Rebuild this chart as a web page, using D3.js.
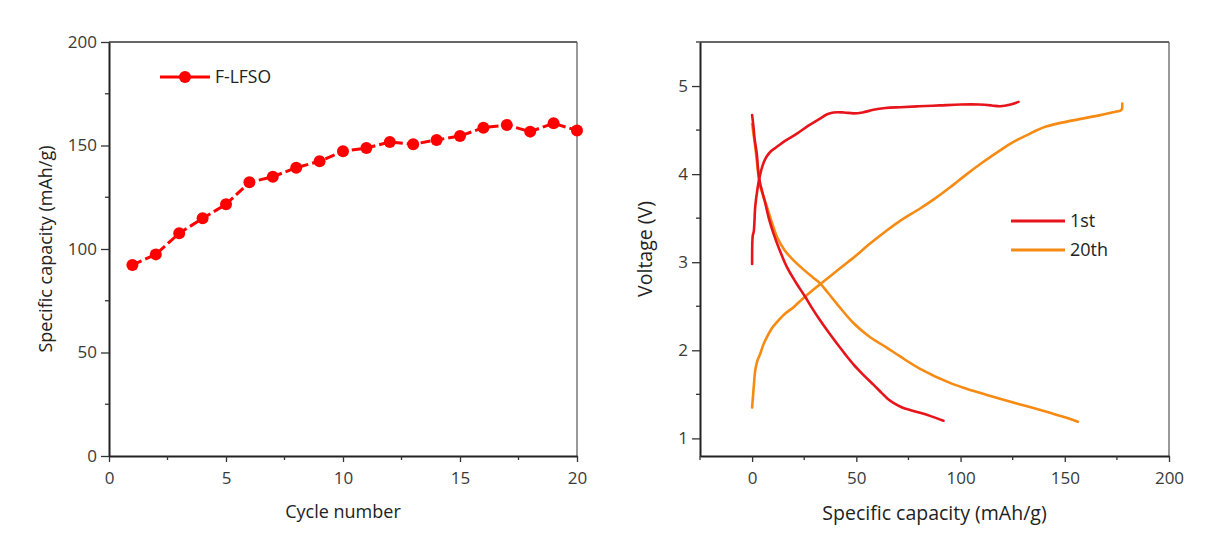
<!DOCTYPE html>
<html>
<head>
<meta charset="utf-8">
<script src="https://cdn.jsdelivr.net/npm/d3@7"></script>
<style>
  body { margin: 0; background: #fff; }
  text { font-family: "Open Sans", sans-serif; }
</style>
</head>
<body>
<div id="chart"></div>
<script>
// cycling data (left panel)
const cycles = [1, 2, 3, 4, 5, 6, 7, 8, 9, 10, 11, 12, 13, 14, 15, 16, 17, 18, 19, 20];
const capacity = [92.3, 97.4, 107.6, 114.8, 121.6, 132.2, 134.9, 139.3, 142.4, 147.2,
                  148.8, 151.7, 150.6, 152.7, 154.6, 158.6, 159.9, 156.7, 160.7, 157.3];

// charge/discharge profiles (right panel): [capacity mAh/g, voltage V]
const charge1 = [[0, 2.98], [0.3, 3.3], [0.8, 3.35], [1.5, 3.63], [2.5, 3.82], [3.9, 4.0], [5.5, 4.13],
  [7, 4.2], [9, 4.26], [11.9, 4.31], [16, 4.38], [21.5, 4.46], [27, 4.55], [32.6, 4.63], [36, 4.68],
  [39, 4.70], [44, 4.70], [48.6, 4.69], [53, 4.70], [58.2, 4.73], [64, 4.75], [71, 4.76], [80, 4.77],
  [90, 4.78], [100, 4.79], [109, 4.79], [115, 4.78], [119, 4.77], [124, 4.79], [127.8, 4.82]];
const discharge1 = [[0, 4.67], [0.6, 4.55], [1.2, 4.4], [2.2, 4.24], [3.1, 4.0], [3.9, 3.89], [6, 3.7],
  [8, 3.5], [10.2, 3.33], [13, 3.15], [16.6, 2.95], [21, 2.77], [25.4, 2.61], [29, 2.47], [32.6, 2.34],
  [36.5, 2.21], [40.6, 2.08], [44.5, 1.96], [48.6, 1.84], [53, 1.73], [58.2, 1.61], [62, 1.52],
  [65, 1.45], [68, 1.40], [72, 1.35], [76, 1.32], [80.6, 1.29], [86, 1.25], [91.8, 1.2]];
const charge20 = [[0, 1.35], [0.5, 1.5], [1.0, 1.65], [1.5, 1.77], [2.5, 1.88], [3.9, 1.96], [5.5, 2.07],
  [7.1, 2.15], [9.5, 2.25], [11.9, 2.32], [15.5, 2.41], [19.9, 2.49], [24, 2.58], [27.9, 2.66],
  [32.6, 2.75], [40, 2.89], [48.6, 3.05], [56, 3.20], [64.6, 3.36], [71, 3.47], [80.6, 3.61], [87, 3.71],
  [95, 3.85], [103, 4.0], [111, 4.14], [119, 4.27], [125, 4.36], [131.6, 4.44], [141, 4.54],
  [154, 4.61], [167, 4.67], [174.8, 4.71], [177.2, 4.73], [177.6, 4.80]];
const discharge20 = [[0, 4.57], [0.7, 4.45], [1.5, 4.31], [2.5, 4.1], [3.6, 3.89], [5.2, 3.76],
  [7.1, 3.63], [9.5, 3.45], [11.9, 3.29], [15.5, 3.14], [19.9, 3.02], [25, 2.91], [29, 2.83],
  [32.6, 2.76], [36.5, 2.65], [40.6, 2.53], [48.6, 2.31], [56, 2.16], [64.6, 2.03], [71, 1.93],
  [80.6, 1.79], [94.9, 1.63], [106, 1.54], [118.9, 1.45], [131, 1.37], [142.9, 1.29], [150, 1.24],
  [156.3, 1.19]];

const leftTicksX = [0, 5, 10, 15, 20];
const leftTicksY = [0, 50, 100, 150, 200];
const rightTicksX = [0, 50, 100, 150, 200];
const rightTicksY = [1, 2, 3, 4, 5];

const red = "#ff0000";
const red1 = "#e8141c";
const orange = "#f68a12";
const axisGrey = "#333";
const labelGrey = "#3a3a3a";

const width = 1207, height = 536;
const svg = d3.select("#chart").append("svg")
  .attr("width", width)
  .attr("height", height);

// draws frame, ticks (major+minor) and labels for one panel
function drawAxes(x, y, opts) {
  const [x0, x1] = x.range();
  const [y0, y1] = y.range();
  const g = svg.append("g");

  // top and right frame (thin)
  g.append("line").attr("x1", x0).attr("x2", x1).attr("y1", y1).attr("y2", y1)
    .attr("stroke", axisGrey).attr("stroke-width", 1.5);
  g.append("line").attr("x1", x1).attr("x2", x1).attr("y1", y1).attr("y2", y0)
    .attr("stroke", "#555").attr("stroke-width", 1.2);

  const xAxis = d3.axisBottom(x).tickValues(opts.xMajor).tickFormat(d3.format("d"))
    .tickSize(6).tickSizeOuter(0).tickPadding(10);
  const gx = g.append("g").attr("transform", `translate(0,${y0})`).call(xAxis);
  const yAxis = d3.axisLeft(y).tickValues(opts.yMajor).tickFormat(d3.format("d"))
    .tickSize(8).tickSizeOuter(0).tickPadding(4);
  const gy = g.append("g").attr("transform", `translate(${x0},0)`).call(yAxis);

  [gx, gy].forEach(a => {
    a.select(".domain").attr("stroke", "#222").attr("stroke-width", 2);
    a.selectAll(".tick line").attr("stroke", axisGrey).attr("stroke-width", 1.3);
    a.selectAll(".tick text").attr("fill", labelGrey).style("font-size", "17px")
      .style("font-family", "'Open Sans', sans-serif");
  });

  // minor ticks
  const xd = x.domain(), yd = y.domain();
  const xMinor = d3.range(Math.ceil(xd[0] / opts.xMinorStep) * opts.xMinorStep, xd[1] + 1e-9, opts.xMinorStep)
    .filter(v => !opts.xMajor.some(m => Math.abs(m - v) < 1e-9));
  const yMinor = d3.range(Math.ceil(yd[0] / opts.yMinorStep) * opts.yMinorStep, yd[1] + 1e-9, opts.yMinorStep)
    .filter(v => !opts.yMajor.some(m => Math.abs(m - v) < 1e-9));
  g.selectAll(null).data(xMinor).join("line")
    .attr("x1", d => x(d)).attr("x2", d => x(d)).attr("y1", y0).attr("y2", y0 + 4)
    .attr("stroke", axisGrey).attr("stroke-width", 1.3);
  g.selectAll(null).data(yMinor).join("line")
    .attr("x1", x0).attr("x2", x0 - 4).attr("y1", d => y(d)).attr("y2", d => y(d))
    .attr("stroke", axisGrey).attr("stroke-width", 1.3);

  g.append("text")
    .attr("x", (x0 + x1) / 2).attr("y", opts.xLabelY)
    .attr("text-anchor", "middle")
    .attr("fill", "#222")
    .style("font-size", opts.titleSize)
    .text(opts.xLabel);
  g.append("text")
    .attr("transform", `translate(${opts.yLabelX},${(y0 + y1) / 2}) rotate(-90)`)
    .attr("text-anchor", "middle")
    .attr("fill", "#222")
    .style("font-size", opts.titleSize)
    .text(opts.yLabel);
}

// ---- left panel ----
const xL = d3.scaleLinear().domain([0, 20]).range([109, 577]);
const yL = d3.scaleLinear().domain([0, 200]).range([456, 42]);
drawAxes(xL, yL, {
  xMajor: leftTicksX, yMajor: leftTicksY, xMinorStep: 2.5, yMinorStep: 25,
  xLabel: "Cycle number", yLabel: "Specific capacity (mAh/g)",
  yLabelX: 52, xLabelY: 518, titleSize: "18px"
});

const cyc = cycles.map((c, i) => ({ c, v: capacity[i] }));
svg.append("path")
  .datum(cyc)
  .attr("fill", "none")
  .attr("stroke", red)
  .attr("stroke-width", 3)
  .attr("stroke-dasharray", "10,4")
  .attr("d", d3.line().x(d => xL(d.c)).y(d => yL(d.v)));
svg.append("g").selectAll("circle")
  .data(cyc)
  .join("circle")
  .attr("cx", d => xL(d.c))
  .attr("cy", d => yL(d.v))
  .attr("r", 6)
  .attr("fill", red);

// left legend
svg.append("line").attr("x1", 160).attr("x2", 210).attr("y1", 77).attr("y2", 77)
  .attr("stroke", red).attr("stroke-width", 3);
svg.append("circle").attr("cx", 185).attr("cy", 77).attr("r", 6).attr("fill", red);
svg.append("text").attr("x", 215).attr("y", 83).attr("fill", "#222")
  .style("font-size", "17.5px").text("F-LFSO");

// ---- right panel ----
const xR = d3.scaleLinear().domain([-25, 200]).range([700, 1169]);
const yR = d3.scaleLinear().domain([0.8, 5.5]).range([456, 42]);
drawAxes(xR, yR, {
  xMajor: rightTicksX, yMajor: rightTicksY, xMinorStep: 25, yMinorStep: 0.5,
  xLabel: "Specific capacity (mAh/g)", yLabel: "Voltage (V)",
  yLabelX: 652, xLabelY: 520, titleSize: "19.5px"
});

const line = d3.line().x(d => xR(d[0])).y(d => yR(d[1])).curve(d3.curveCatmullRom.alpha(0.5));
const curves = [
  { data: discharge20, color: orange },
  { data: charge20, color: orange },
  { data: discharge1, color: red1 },
  { data: charge1, color: red1 }
];
svg.append("g").selectAll("path")
  .data(curves)
  .join("path")
  .attr("fill", "none")
  .attr("stroke", d => d.color)
  .attr("stroke-width", 2.6)
  .attr("stroke-linejoin", "round")
  .attr("stroke-linecap", "round")
  .attr("d", d => line(d.data));

// right legend
const legendItems = [{ name: "1st", color: red1 }, { name: "20th", color: orange }];
const lg = svg.append("g").selectAll("g").data(legendItems).join("g")
  .attr("transform", (d, i) => `translate(1011,${221 + i * 29})`);
lg.append("line").attr("x1", 0).attr("x2", 54).attr("stroke", d => d.color).attr("stroke-width", 3);
lg.append("text").attr("x", 59).attr("y", 6).attr("fill", "#222")
  .style("font-size", "18px").text(d => d.name);
</script>
</body>
</html>
